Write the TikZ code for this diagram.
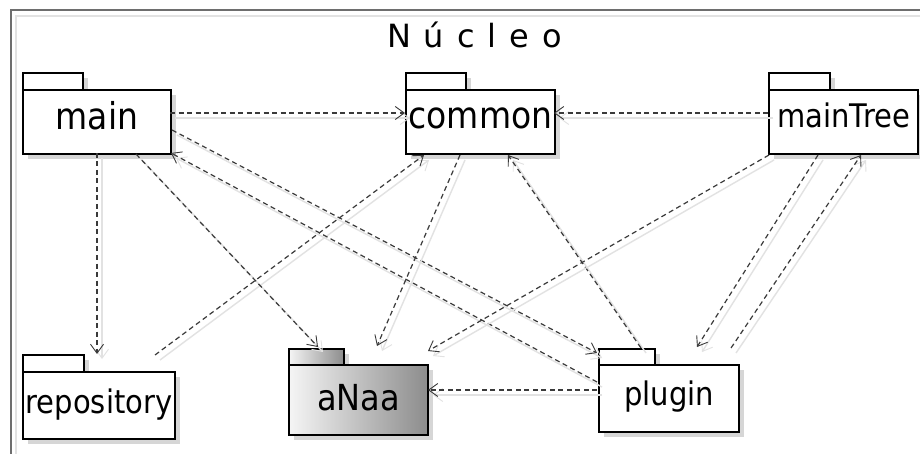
\documentclass[tikz,border=0pt]{standalone}
\usepackage{fontspec}
\setmainfont{DejaVu Sans}
\usetikzlibrary{arrows.meta,shadows}

\definecolor{depgray}{HTML}{3A3A3A}
\definecolor{depshade}{HTML}{E2E2E2}
\definecolor{boxshade}{HTML}{D6D6D6}
\definecolor{framedark}{HTML}{6E6E6E}
\definecolor{framelight}{HTML}{E2E2E2}

\tikzset{
  pkgbox/.style={draw=black, line width=2pt, fill=white, inner sep=0pt,
    anchor=north west,
    drop shadow={shadow xshift=5pt, shadow yshift=-5pt, fill=boxshade, opacity=1}},
  pkgtab/.style={pkgbox},
  bigname/.style={font=\fontsize{33}{38}\selectfont},
  smallname/.style={font=\fontsize{29}{34}\selectfont},
  deptip/.style={-{Straight Barb[length=9pt,width=13pt,line width=0.9pt]}},
  dep/.style={deptip, draw=depgray, line width=1.2pt, dash pattern=on 5pt off 3.5pt},
  depshadow/.style={deptip, draw=depshade, line width=1.4pt,
    transform canvas={shift={(5pt,-5pt)}}},
}

% package names are set slightly tall
\newcommand\pkgname[1]{\scalebox{1}[1.12]{#1}}

% a dependency: light offset shadow first, dashed arrow on top
\newcommand\depend[2]{%
  \draw[depshadow] #1 -- #2;
  \draw[dep] #1 -- #2;}

\begin{document}
\begin{tikzpicture}[x=1pt,y=-1pt]
\useasboundingbox (0,0) rectangle (920,454);
\fill[white] (0,0) rectangle (920,454);

% enclosing frame
\draw[framelight, line width=1.5pt] (16,454) -- (16,16) -- (920,16);
\draw[framedark, line width=2pt] (11,454) -- (11,10) -- (920,10);

% title
\node[anchor=base, font=\fontsize{32}{38}\selectfont, inner sep=0pt] (title) at (474.5,48)
  {N\hspace{13pt}ú\hspace{13pt}c\hspace{13pt}l\hspace{13pt}e\hspace{13pt}o};

% package tabs
\node[pkgtab, minimum width=60pt, minimum height=17pt] (mainTab) at (22,72) {};
\node[pkgtab, minimum width=60pt, minimum height=17pt] (commonTab) at (405,72) {};
\node[pkgtab, minimum width=61pt, minimum height=17pt] (mainTreeTab) at (768,72) {};
\node[pkgtab, minimum width=61pt, minimum height=17pt] (repositoryTab) at (22,354) {};
\node[pkgtab, minimum width=55pt, minimum height=16pt, left color=black!4, right color=black!45] (aNaaTab) at (288,348) {};
\node[pkgtab, minimum width=56pt, minimum height=16pt] (pluginTab) at (598,348) {};

% package bodies
\node[pkgbox, bigname, minimum width=148pt, minimum height=64pt,
  text height=24pt, text depth=8pt] (main) at (22,89) {\pkgname{main}};
\node[pkgbox, bigname, minimum width=149pt, minimum height=64pt,
  text height=22pt, text depth=8pt] (common) at (405,89) {\pkgname{common}};
\node[pkgbox, smallname, minimum width=149pt, minimum height=64pt,
  text height=20pt, text depth=8pt] (mainTree) at (768,89) {\pkgname{mainTree}};
\node[pkgbox, smallname, minimum width=152pt, minimum height=67pt,
  text height=21pt, text depth=6pt] (repository) at (22,371) {\pkgname{repository}};
\node[pkgbox, font=\fontsize{32}{38}\selectfont, minimum width=139pt, minimum height=70pt,
  left color=black!4, right color=black!45,
  text height=24pt, text depth=4pt] (aNaa) at (288,364) {\pkgname{aNaa}};
\node[pkgbox, smallname, minimum width=140pt, minimum height=67pt,
  text height=21pt, text depth=8pt] (plugin) at (598,364) {\pkgname{plugin}};

% dependencies
\depend{([shift={(148,24)}]main.north west)}{([shift={(0,24)}]common.north west)}
\depend{([shift={(0,24)}]mainTree.north west)}{([shift={(149,24)}]common.north west)}
\depend{([shift={(75,64)}]main.north west)}{([shift={(75,-17)}]repository.north west)}
\depend{([shift={(133,-16)}]repository.north west)}{([shift={(19,66)}]common.north west)}
\depend{([shift={(114,65)}]main.north west)}{([shift={(30,-17)}]aNaa.north west)}
\depend{([shift={(150,41)}]main.north west)}{([shift={(-1,-11)}]plugin.north west)}
\depend{([shift={(-1,18)}]plugin.north west)}{([shift={(149,64)}]main.north west)}
\depend{([shift={(55,66)}]common.north west)}{([shift={(89,-18)}]aNaa.north west)}
\depend{([shift={(43,-16)}]plugin.north west)}{([shift={(103,66)}]common.north west)}
\depend{([shift={(1,66)}]mainTree.north west)}{([shift={(140,-13)}]aNaa.north west)}
\depend{([shift={(50,66)}]mainTree.north west)}{([shift={(99,-17)}]plugin.north west)}
\depend{([shift={(133,-16)}]plugin.north west)}{([shift={(93,66)}]mainTree.north west)}
\depend{([shift={(-1,26)}]plugin.north west)}{([shift={(140,26)}]aNaa.north west)}
\end{tikzpicture}
\end{document}
